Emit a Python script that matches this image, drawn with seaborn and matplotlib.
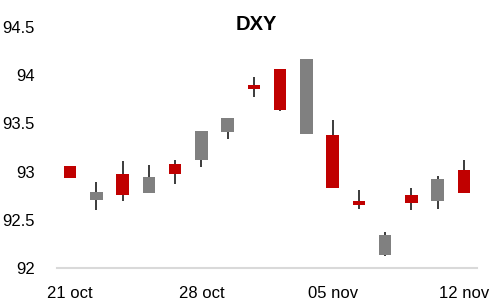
import matplotlib
matplotlib.use("Agg")
import matplotlib.pyplot as plt
import seaborn as sns
import pandas as pd
import numpy as np

dates = ["21 oct", "22 oct", "23 oct", "26 oct", "27 oct", "28 oct", "29 oct", "30 oct",
         "02 nov", "03 nov", "05 nov", "06 nov", "09 nov", "10 nov", "11 nov", "12 nov"]
open_ = [93.06, 92.71, 92.975, 92.78, 93.08, 93.12, 93.41, 93.90,
         94.06, 93.39, 93.38, 92.70, 92.14, 92.76, 92.69, 93.02]
close = [92.93, 92.79, 92.76, 92.94, 92.98, 93.42, 93.56, 93.86,
         93.64, 94.17, 92.83, 92.65, 92.34, 92.67, 92.92, 92.78]
high = [93.06, 92.89, 93.11, 93.07, 93.12, 93.42, 93.56, 93.98,
        94.06, 94.17, 93.535, 92.81, 92.37, 92.83, 92.95, 93.12]
low = [92.93, 92.60, 92.70, 92.78, 92.875, 93.05, 93.34, 93.77,
       93.63, 93.39, 92.83, 92.615, 92.12, 92.605, 92.615, 92.78]
shown_labels = ["21 oct", "28 oct", "05 nov", "12 nov"]
title = "DXY"

sns.set_style("white")
plt.rcParams["font.family"] = ["Liberation Sans", "DejaVu Sans"]

df = pd.DataFrame({"date": dates, "open": open_, "close": close, "high": high, "low": low})
df["bottom"] = df[["open", "close"]].min(axis=1)
df["body"] = (df["close"] - df["open"]).abs()
df["range"] = df["high"] - df["low"]
up = df[df["close"] >= df["open"]]
down = df[df["close"] < df["open"]]

fig = plt.figure(figsize=(5.0, 3.07), dpi=100)
ax = fig.add_axes([57 / 500, 1 - 268 / 307, 420 / 500, (268 - 27) / 307])

# wicks
sns.barplot(data=df, x="date", y="range", order=dates, bottom=df["low"].to_numpy(),
            color="#404040", saturation=1, width=0.08, linewidth=0, ax=ax, zorder=2)
# bodies
sns.barplot(data=up, x="date", y="body", order=dates, bottom=up["bottom"].to_numpy(),
            color="#808080", saturation=1, width=0.48, linewidth=0, ax=ax, zorder=3)
sns.barplot(data=down, x="date", y="body", order=dates, bottom=down["bottom"].to_numpy(),
            color="#C00000", saturation=1, width=0.48, linewidth=0, ax=ax, zorder=3)

ax.set_xlim(-0.5, len(dates) - 0.5)
ax.set_ylim(92, 94.5)
ax.set_yticks([92, 92.5, 93, 93.5, 94, 94.5])
ax.set_yticklabels(["92", "92.5", "93", "93.5", "94", "94.5"])
ax.set_xticks([dates.index(d) for d in shown_labels])
ax.set_xticklabels(shown_labels)
ax.set_xticks(np.arange(-0.5, len(dates), 1.0), minor=True)
ax.tick_params(axis="x", which="major", length=0, pad=13, labelsize=12, colors="#000000")
ax.tick_params(axis="x", which="minor", length=5, width=1.2, color="#D9D9D9", direction="out")
ax.tick_params(axis="y", length=0, pad=16, labelsize=12, colors="#000000")
ax.set_xlabel("")
ax.set_ylabel("")
for s in ["left", "right", "top"]:
    ax.spines[s].set_visible(False)
ax.spines["bottom"].set_color("#D9D9D9")
ax.spines["bottom"].set_linewidth(1.5)
ax.grid(False)

fig.text(256 / 500, 1 - 24.5 / 307, title, ha="center", va="center",
         fontsize=14.5, fontweight="bold", color="#000000")

fig.savefig("out.png", dpi=100)
